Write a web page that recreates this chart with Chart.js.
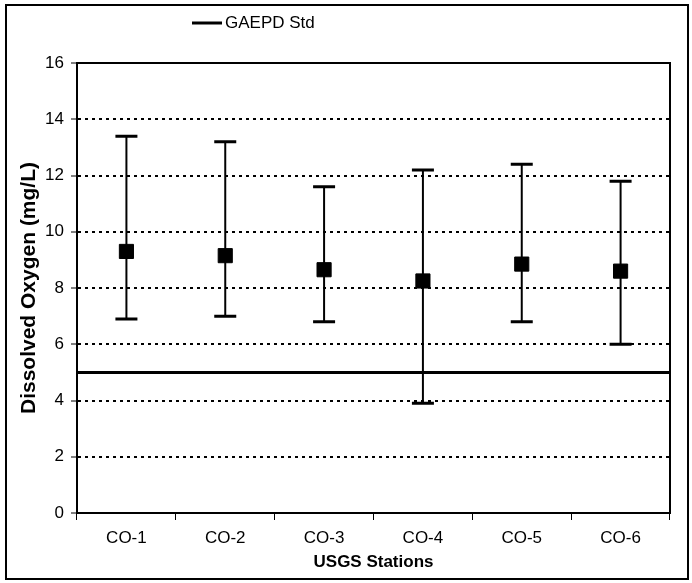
<!DOCTYPE html>
<html>
<head>
<meta charset="utf-8">
<script src="https://cdn.jsdelivr.net/npm/chart.js@4/dist/chart.umd.min.js"></script>
<style>
  html, body { margin: 0; padding: 0; background: #fff; }
  canvas { display: block; }
</style>
</head>
<body>
<canvas id="chart" width="692" height="583"></canvas>
<script>
// Dissolved oxygen at each USGS station: mean with min / max range
const stations = ['CO-1', 'CO-2', 'CO-3', 'CO-4', 'CO-5', 'CO-6'];
const meanDO = [9.3, 9.15, 8.65, 8.25, 8.85, 8.6];
const maxDO = [13.4, 13.2, 11.6, 12.2, 12.4, 11.8];
const minDO = [6.9, 7.0, 6.8, 3.9, 6.8, 6.0];

// State standard (GAEPD) minimum dissolved oxygen
const stdLabel = 'GAEPD Std';
const stdDO = 5;

// Y axis range and step
const yMin = 0;
const yMax = 16;
const yStep = 2;

const FONT = "'Liberation Sans', Arial, Helvetica, sans-serif";

// Whiskers from min to max for each station
const errorBars = {
  id: 'errorBars',
  beforeDatasetsDraw(chart) {
    const { ctx, scales: { x, y } } = chart;
    ctx.save();
    ctx.strokeStyle = '#000';
    stations.forEach((s, i) => {
      const px = x.getPixelForValue(i);
      const top = y.getPixelForValue(maxDO[i]);
      const bot = y.getPixelForValue(minDO[i]);
      ctx.lineWidth = 2;
      ctx.beginPath();
      ctx.moveTo(px, top);
      ctx.lineTo(px, bot);
      ctx.stroke();
      ctx.lineWidth = 3;
      ctx.beginPath();
      ctx.moveTo(px - 11, top);
      ctx.lineTo(px + 11, top);
      ctx.moveTo(px - 11, bot);
      ctx.lineTo(px + 11, bot);
      ctx.stroke();
    });
    ctx.restore();
  }
};

// Box around the plotting area and frame around the whole figure
const frames = {
  id: 'frames',
  beforeDatasetsDraw(chart) {
    const { ctx, chartArea: a } = chart;
    ctx.save();
    ctx.strokeStyle = '#000';
    ctx.lineWidth = 2;
    ctx.strokeRect(a.left, a.top, a.right - a.left, a.bottom - a.top);
    ctx.restore();
  },
  afterDraw(chart) {
    const { ctx } = chart;
    ctx.save();
    ctx.strokeStyle = '#000';
    ctx.lineWidth = 2;
    ctx.strokeRect(6, 5, 682, 574);
    ctx.restore();
  }
};

// Legend entry for the standard line
const stdLegend = {
  id: 'stdLegend',
  afterDraw(chart) {
    const { ctx } = chart;
    const ds = chart.data.datasets[1];
    ctx.save();
    ctx.strokeStyle = ds.borderColor;
    ctx.lineWidth = ds.borderWidth;
    ctx.beginPath();
    ctx.moveTo(192, 23);
    ctx.lineTo(222, 23);
    ctx.stroke();
    ctx.fillStyle = '#000';
    ctx.font = '17px ' + FONT;
    ctx.textBaseline = 'middle';
    ctx.textAlign = 'left';
    ctx.fillText(ds.label, 225, 23);
    ctx.restore();
  }
};

new Chart(document.getElementById('chart'), {
  type: 'line',
  data: {
    labels: stations,
    datasets: [
      {
        label: 'Mean',
        data: meanDO,
        xAxisID: 'x',
        showLine: false,
        pointStyle: 'rect',
        pointRadius: 10,
        pointHoverRadius: 10,
        pointBorderWidth: 1,
        pointBackgroundColor: '#000',
        pointBorderColor: '#000',
        borderColor: '#000',
        backgroundColor: '#000'
      },
      {
        label: stdLabel,
        data: [{ x: 0, y: stdDO }, { x: 1, y: stdDO }],
        xAxisID: 'x2',
        borderColor: '#000',
        borderWidth: 3,
        pointRadius: 0,
        fill: false
      }
    ]
  },
  options: {
    responsive: false,
    animation: false,
    events: [],
    layout: { padding: { top: 63, right: 22, bottom: 0, left: 0 } },
    plugins: {
      legend: { display: false },
      tooltip: { enabled: false }
    },
    scales: {
      x: {
        type: 'category',
        offset: true,
        grid: {
          offset: true,
          drawOnChartArea: false,
          color: '#000',
          tickColor: '#000',
          tickLength: 7,
          tickWidth: 1,
          lineWidth: 1
        },
        border: { display: true, color: '#000', width: 2 },
        ticks: {
          color: '#000',
          font: { family: FONT, size: 17 },
          padding: 8,
          maxRotation: 0,
          autoSkip: false
        },
        title: {
          display: true,
          text: 'USGS Stations',
          color: '#000',
          font: { family: FONT, size: 17, weight: 'bold' },
          padding: { top: 0, bottom: 10 }
        },
        afterFit(scale) { scale.height = 70; }
      },
      x2: {
        type: 'linear',
        min: 0,
        max: 1,
        display: false
      },
      y: {
        min: yMin,
        max: yMax,
        ticks: {
          stepSize: yStep,
          color: '#000',
          font: { family: FONT, size: 17 },
          padding: 7
        },
        grid: {
          color: (c) => (c.tick && (c.tick.value === yMin || c.tick.value === yMax)) ? 'rgba(0,0,0,0)' : '#000',
          lineWidth: 2,
          borderDash: [3, 4],
          tickColor: '#000',
          tickLength: 6,
          tickWidth: 1,
          tickBorderDash: []
        },
        border: { display: true, color: '#000', width: 2, dash: [3, 4] },
        title: {
          display: true,
          text: 'Dissolved Oxygen (mg/L)',
          color: '#000',
          font: { family: FONT, size: 21, weight: 'bold' },
          padding: { top: 17, bottom: 0 }
        },
        afterFit(scale) { scale.width = 77; }
      }
    }
  },
  plugins: [errorBars, frames, stdLegend]
});
</script>
</body>
</html>
